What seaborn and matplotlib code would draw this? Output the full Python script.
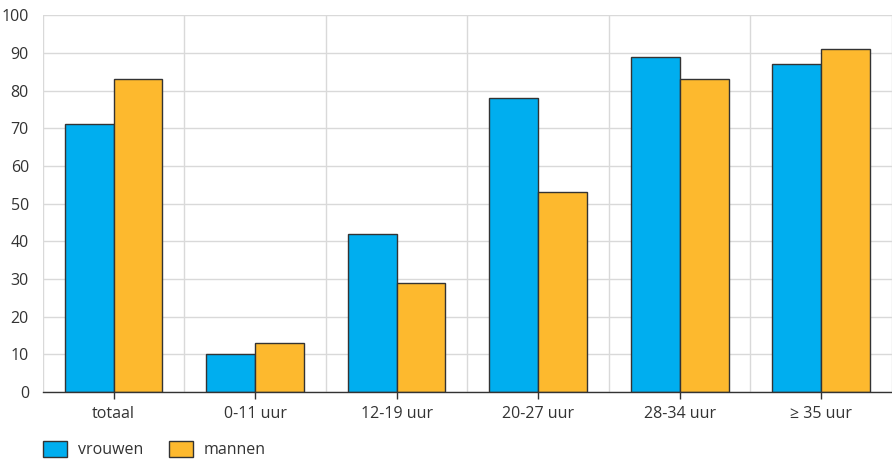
import pandas as pd
import matplotlib
matplotlib.use("Agg")
import matplotlib.pyplot as plt
import seaborn as sns
from matplotlib.patches import Patch

categories = ["totaal", "0-11 uur", "12-19 uur", "20-27 uur", "28-34 uur", "\u2265 35 uur"]
vrouwen = [71, 10, 42, 78, 89, 87]
mannen = [83, 13, 29, 53, 83, 91]
series = ["vrouwen", "mannen"]
colors = ["#00AEEF", "#FDB92E"]

df = pd.DataFrame({
    "cat": categories * 2,
    "val": vrouwen + mannen,
    "groep": ["vrouwen"] * len(categories) + ["mannen"] * len(categories),
})

sns.set_theme(style="white")
plt.rcParams["font.family"] = ["Open Sans", "DejaVu Sans"]

fig = plt.figure(figsize=(8.92, 4.59), dpi=100)
ax = fig.add_axes([0.048, 0.146, 0.952, 0.821])

sns.barplot(data=df, x="cat", y="val", hue="groep", hue_order=series,
            palette=colors, width=0.69, edgecolor="#333333", linewidth=1.0,
            saturation=1, legend=False, ax=ax, zorder=3)

ax.set_ylim(0, 100)
ax.set_xlim(-0.5, 5.48)
ax.set_yticks(range(0, 101, 10))
ax.set_xticks(range(len(categories)))
ax.set_xticklabels(categories)
ax.set_xticks([i - 0.5 for i in range(len(categories) + 1)], minor=True)
ax.grid(axis="y", color="#d9d9d9", linewidth=1, zorder=0)
ax.grid(axis="x", which="minor", color="#d9d9d9", linewidth=1, zorder=0)
ax.set_axisbelow(True)
ax.set_xlabel("")
ax.set_ylabel("")
for s in ["top", "right", "left"]:
    ax.spines[s].set_visible(False)
ax.spines["bottom"].set_color("#333333")
ax.spines["bottom"].set_linewidth(1.0)
ax.spines["bottom"].set_zorder(4)
ax.tick_params(axis="x", which="major", length=5, width=1, color="#333333",
               labelsize=11.5, labelcolor="#333333", pad=5, direction="out", bottom=True)
ax.tick_params(axis="x", which="minor", length=0)
ax.tick_params(axis="y", length=0, labelsize=11.5, labelcolor="#333333", pad=10)

handles = [Patch(facecolor=c, edgecolor="#333333", label=l) for c, l in zip(colors, series)]
fig.legend(handles=handles, loc="lower left", bbox_to_anchor=(0.032, -0.03), ncol=2,
           frameon=False, fontsize=11.5, handlelength=1.5, handleheight=1.1,
           columnspacing=1.6, handletextpad=0.7, labelcolor="#333333")

fig.savefig("out.png", dpi=100)
